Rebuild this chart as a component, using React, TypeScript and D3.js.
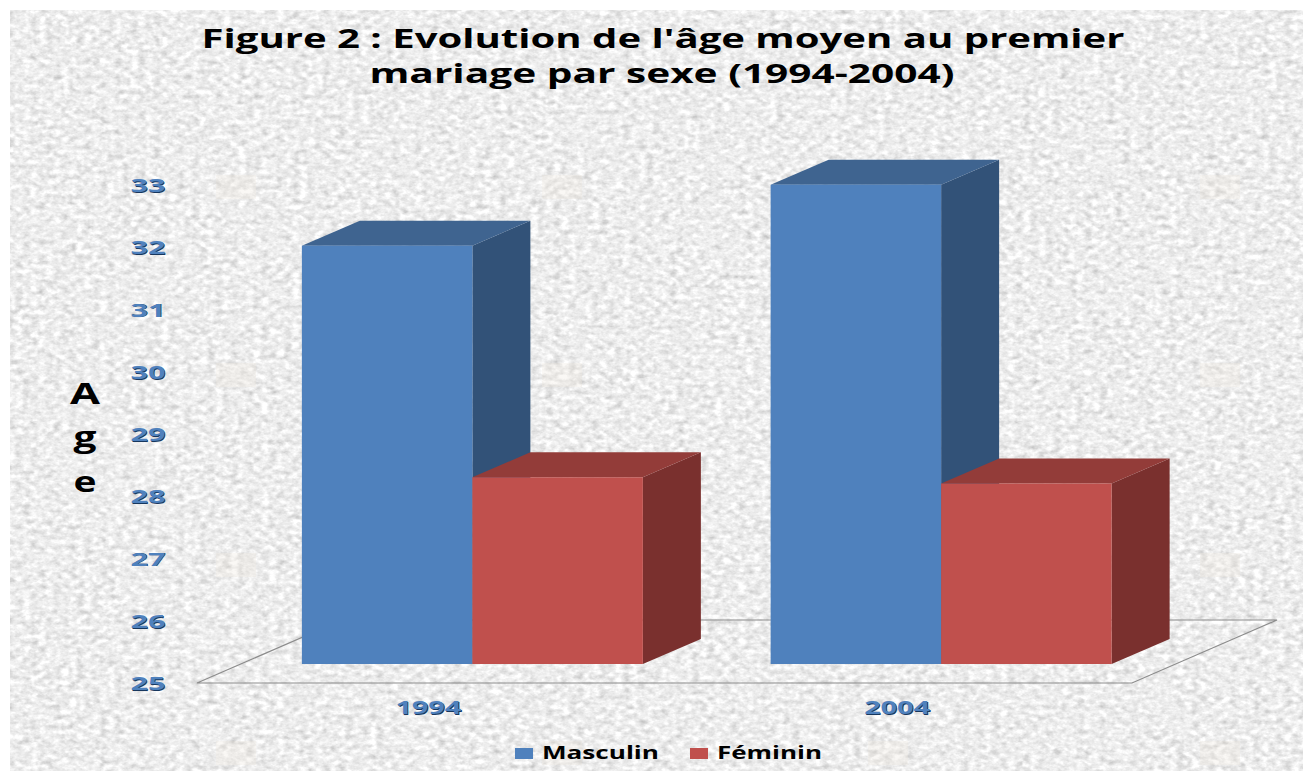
import React from "react";
import * as d3 from "d3";

const categories = ["1994", "2004"];
const seriesNames = ["Masculin", "Féminin"];
const masculin = [31.72, 32.7];
const feminin = [28.0, 27.9];
const yTicks = [25, 26, 27, 28, 29, 30, 31, 32, 33];
const titleLines = ["Figure 2 : Evolution de l'âge moyen au premier", "mariage par sexe (1994-2004)"];
const axisLetters = ["A", "g", "e"];
const watermarkX = [236, 562, 888, 1220];
const watermarkY = [187, 375, 565, 753];

const W = 1303, H = 771;
const DX = 58, DY = -25;
const FONT = "Open Sans";
const faces = [
  { front: "#4f81bd", top: "#3f6490", side: "#325278" },
  { front: "#c0504d", top: "#933c39", side: "#7a302e" },
];

const yScale = d3.scaleLinear().domain([25, 33]).range([664, 166]);
const yLabel = d3.scaleLinear().domain([25, 33]).range([683, 185]);
const xBand = d3.scaleBand<string>().domain(categories).range([238, 1175.5]);
const xSub = d3.scaleBand<number>().domain([0, 1]).range([-170.5, 170.5]);

const poly = (pts: [number, number][]) => d3.line()(pts) + "Z";

const Label = ({ x, y, size, w, children }: any) => (
  <g>
    <text x={x + 0.8} y={y + 0.8} fontFamily={FONT} fontWeight="bold" fontSize={size} fill="#17375e" textAnchor="middle" textLength={w} lengthAdjust="spacingAndGlyphs">{children}</text>
    <text x={x} y={y} fontFamily={FONT} fontWeight="bold" fontSize={size} fill="#4f81bd" textAnchor="middle" textLength={w} lengthAdjust="spacingAndGlyphs">{children}</text>
  </g>
);

export default function App() {
  const series = [masculin, feminin];
  const bars = categories.flatMap((c, i) =>
    series.map((vals, s) => {
      const cx = xBand(c)! + xBand.bandwidth() / 2;
      const x0 = cx + xSub(s)!;
      return { key: c + s, s, x0, x1: x0 + xSub.bandwidth(), yT: yScale(vals[i]), yB: yScale(25) };
    })
  );
  return (
    <svg width={W} height={H} style={{ position: "fixed", left: 0, top: 0 }}>
      <defs>
        <filter id="paper" x="0" y="0" width="100%" height="100%" colorInterpolationFilters="sRGB">
          <feTurbulence type="fractalNoise" baseFrequency="0.13 0.2" numOctaves={3} seed={7} />
          <feColorMatrix type="matrix" values="0 0 0 0 0  0 0 0 0 0  0 0 0 0 0  0.5 0.5 0 0 0" result="a" />
          <feColorMatrix in="a" type="matrix" values="0 0 0 1 0  0 0 0 1 0  0 0 0 1 0  0 0 0 0 1" />
          <feComponentTransfer>
            <feFuncR type="linear" slope="0.46" intercept="0.70" />
            <feFuncG type="linear" slope="0.46" intercept="0.70" />
            <feFuncB type="linear" slope="0.46" intercept="0.70" />
          </feComponentTransfer>
        </filter>
      </defs>
      <rect width={W} height={H} fill="#fff" />
      <rect x={10} y={10} width={W - 10} height={H - 10} filter="url(#paper)" />
      {watermarkX.flatMap((x) => watermarkY.map((y) => (
        <rect key={x + "-" + y} x={x - 20} y={y - 12} width={40} height={24} fill="#f0e8de" opacity={0.3} />
      )))}

      {titleLines.map((t, i) => (
        <text key={t} x={i === 0 ? 663 : 662} y={i === 0 ? 48 : 83} textAnchor="middle" fontFamily={FONT} fontWeight="bold" fontSize={27} fill="#000" textLength={i === 0 ? 923 : 585} lengthAdjust="spacingAndGlyphs">{t}</text>
      ))}

      <path d={poly([[197, 683], [1132, 683], [1277, 620], [342, 620]])} fill="none" stroke="#8c8c8c" strokeWidth={1.2} />

      {bars.map((b) => (
        <g key={b.key}>
          <path d={poly([[b.x1, b.yT], [b.x1 + DX, b.yT + DY], [b.x1 + DX, b.yB + DY], [b.x1, b.yB]])} fill={faces[b.s].side} />
          <path d={poly([[b.x0, b.yT], [b.x0 + DX, b.yT + DY], [b.x1 + DX, b.yT + DY], [b.x1, b.yT]])} fill={faces[b.s].top} />
          <rect x={b.x0} y={b.yT} width={b.x1 - b.x0} height={b.yB - b.yT} fill={faces[b.s].front} />
        </g>
      ))}

      {yTicks.map((t) => (
        <Label key={t} x={148} y={yLabel(t) + 7} size={18} w={35}>{t}</Label>
      ))}
      {categories.map((c) => (
        <Label key={c} x={xBand(c)! + xBand.bandwidth() / 2 - 44} y={714} size={18} w={66}>{c}</Label>
      ))}

      {axisLetters.map((l, i) => (
        <text key={l} x={85} y={[404, 447, 492][i]} textAnchor="middle" fontFamily={FONT} fontWeight="bold" fontSize={28} fill="#000" textLength={[30, 23, 23][i]} lengthAdjust="spacingAndGlyphs">{l}</text>
      ))}

      {seriesNames.map((n, i) => (
        <g key={n}>
          <rect x={[515, 690][i]} y={748} width={18} height={11} fill={faces[i].front} />
          <text x={[542, 717][i]} y={759} fontFamily={FONT} fontWeight="bold" fontSize={18} fill="#000" textLength={[117, 105][i]} lengthAdjust="spacingAndGlyphs">{n}</text>
        </g>
      ))}
    </svg>
  );
}
